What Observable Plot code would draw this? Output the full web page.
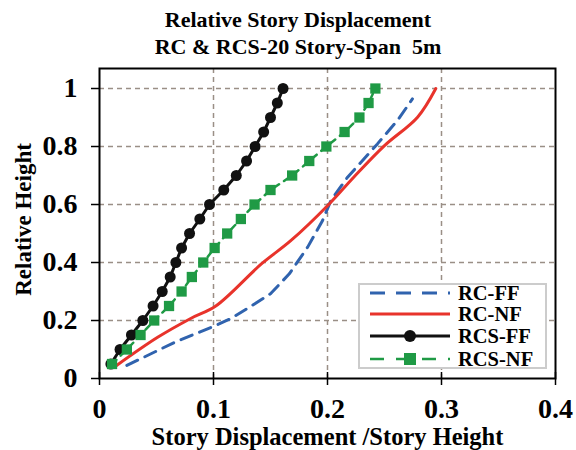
<!DOCTYPE html>
<html><head><meta charset="utf-8">
<script src="https://cdn.jsdelivr.net/npm/d3@7"></script>
<script src="https://cdn.jsdelivr.net/npm/@observablehq/plot@0.6"></script>
<style>
body{margin:0;background:#fff;font-family:"Liberation Serif","Times New Roman",serif;}
#wrap{position:relative;width:576px;height:450px;overflow:hidden;}
#title{height:60px;box-sizing:border-box;padding-top:6px;padding-left:20px;text-align:center;font-weight:bold;font-size:22px;line-height:27px;}
#legend{position:absolute;left:358px;top:283px;}
</style></head><body>
<div id="wrap">
<div id="title">Relative Story Displacement<br>RC &amp; RCS-20 Story-Span&nbsp; 5m</div>
<div id="chart"></div>
<div id="legend"></div>
</div>
<script>
// ---- data ----
const relHeight = [0.05,0.10,0.15,0.20,0.25,0.30,0.35,0.40,0.45,0.50,0.55,0.60,0.65,0.70,0.75,0.80,0.85,0.90,0.95,1.00];
const rcsFF = [0.010,0.018,0.028,0.038,0.047,0.055,0.062,0.067,0.072,0.079,0.088,0.0965,0.109,0.120,0.129,0.1365,0.144,0.150,0.156,0.161];
const rcsNF = [0.011,0.024,0.036,0.048,0.061,0.072,0.081,0.091,0.101,0.112,0.124,0.136,0.150,0.169,0.184,0.199,0.215,0.228,0.236,0.242];
const rcNF_x = [0.015,0.051,0.080,0.102,0.142,0.168,0.2015,0.223,0.250,0.279,0.295];
const rcNF_y = [0.045,0.142,0.207,0.250,0.395,0.476,0.602,0.694,0.803,0.901,1.000];
const rcFF_x = [0.024,0.066,0.102,0.1155,0.136,0.150,0.1665,0.1826,0.1957,0.203,0.2176,0.2438,0.2614,0.2745];
const rcFF_y = [0.045,0.125,0.183,0.207,0.257,0.292,0.361,0.453,0.545,0.614,0.694,0.809,0.890,0.964];
const xTicks = [0,0.1,0.2,0.3,0.4];
const yTicks = [0,0.2,0.4,0.6,0.8,1];
const seriesNames = ["RC-FF","RC-NF","RCS-FF","RCS-NF"];
const colors = {"RC-FF":"#3063ae","RC-NF":"#e8332b","RCS-FF":"#111111","RCS-NF":"#1f9a45"};
const xLabel = "Story Displacement /Story Height";
const yLabel = "Relative Height";

const rcFF = rcFF_x.map((x,i)=>({x, y: rcFF_y[i]}));
const rcNF = rcNF_x.map((x,i)=>({x, y: rcNF_y[i]}));
const rcsFFd = rcsFF.map((x,i)=>({x, y: relHeight[i]}));
const rcsNFd = rcsNF.map((x,i)=>({x, y: relHeight[i]}));

const fmt = d3.format("~g");
const gridStyle = {stroke:"#9a8f86", strokeOpacity:1, strokeWidth:1.5, strokeDasharray:"5,4"};
const font = {fontFamily:"Liberation Serif", fontWeight:"bold"};

const chart = Plot.plot({
  width: 576, height: 390,
  marginTop: 8, marginBottom: 72, marginLeft: 99, marginRight: 21,
  x: {domain:[0,0.4]},
  y: {domain:[0,1.069]},
  style: {fontFamily:"Liberation Serif", background:"white", color:"black"},
  marks: [
    Plot.gridX(xTicks.slice(1,-1), gridStyle),
    Plot.gridY(yTicks.slice(1), gridStyle),
    Plot.line(rcFF, {x:"x", y:"y", stroke:colors["RC-FF"], strokeWidth:3, strokeDasharray:"12,8"}),
    Plot.line(rcNF, {x:"x", y:"y", stroke:colors["RC-NF"], strokeWidth:3, curve:"catmull-rom"}),
    Plot.line(rcsFFd, {x:"x", y:"y", stroke:colors["RCS-FF"], strokeWidth:3}),
    Plot.dot(rcsFFd, {x:"x", y:"y", symbol:"circle", r:5.5, fill:colors["RCS-FF"]}),
    Plot.line(rcsNFd, {x:"x", y:"y", stroke:colors["RCS-NF"], strokeWidth:2.5, strokeDasharray:"6,6"}),
    Plot.dot(rcsNFd, {x:"x", y:"y", symbol:"square", r:5.8, fill:colors["RCS-NF"]}),
    Plot.frame({stroke:"black", strokeWidth:2}),
    Plot.axisY({ticks:yTicks, tickFormat:fmt, tickSize:8, tickPadding:14, fontSize:28, ...font, label:null, strokeWidth:1.5}),
    Plot.axisX({ticks:xTicks, tickFormat:fmt, tickSize:7, tickPadding:13, fontSize:28, ...font, label:null, strokeWidth:1.5}),
    Plot.axisX({ticks:xTicks, tickFormat:()=>"", tickSize:6, dy:-6, label:null, strokeWidth:1.5}),
    Plot.text([xLabel], {frameAnchor:"bottom", dy:59, lineAnchor:"middle", textAnchor:"middle", fontSize:24.5, ...font}),
    Plot.text([yLabel], {frameAnchor:"left", dx:-76, dy:-4, rotate:-90, lineAnchor:"middle", textAnchor:"middle", fontSize:23, ...font})
  ]
});
document.getElementById("chart").appendChild(chart);

// ---- legend (inside plot area, drawn as overlay) ----
const lw = 189, lh = 86;
const lsvg = d3.select("#legend").append("svg").attr("width", lw).attr("height", lh);
lsvg.append("rect").attr("x",1).attr("y",1).attr("width",lw-2).attr("height",lh-2)
  .attr("fill","white").attr("stroke","#cccccc").attr("stroke-width",2);
const rowsY = [10,31,53,76];
seriesNames.forEach((name,i)=>{
  const g = lsvg.append("g").attr("transform",`translate(0,${rowsY[i]})`);
  const line = g.append("line").attr("x1",12).attr("x2",92).attr("y1",0).attr("y2",0)
    .attr("stroke",colors[name]).attr("stroke-width",3);
  if (name==="RC-FF") line.attr("stroke-dasharray","15,11");
  if (name==="RCS-NF") line.attr("stroke-dasharray","14,12").attr("stroke-width",2.5);
  if (name==="RCS-FF") g.append("circle").attr("cx",52).attr("cy",0).attr("r",6).attr("fill",colors[name]);
  if (name==="RCS-NF") g.append("rect").attr("x",46).attr("y",-6).attr("width",12).attr("height",12).attr("fill",colors[name]);
  g.append("text").attr("x",100).attr("y",7).text(name)
    .attr("font-family","Liberation Serif").attr("font-weight","bold").attr("font-size",20.5).attr("fill","black");
});
</script>
</body></html>
